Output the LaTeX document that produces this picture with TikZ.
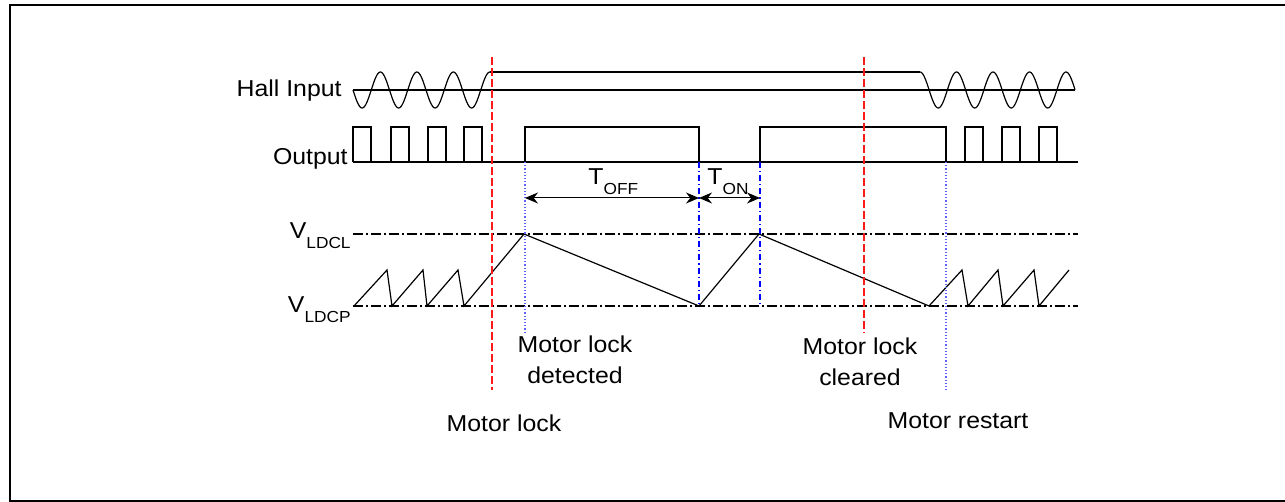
\documentclass[tikz,border=0pt]{standalone}
\usepackage{fontspec}
\setmainfont{Liberation Sans}[FakeStretch=1.08]
\usetikzlibrary{arrows.meta}
\definecolor{lockred}{HTML}{FF1A1A}
\definecolor{markblue}{HTML}{0000FF}
\definecolor{dotblue}{HTML}{6060FF}
\newcommand{\lab}[2]{#1\raisebox{-5pt}{\fontsize{8}{9}\selectfont #2}}

\begin{document}
\begin{tikzpicture}[
    x=0.5pt, y=-0.5pt,
    signal/.style={line width=0.6pt},
    level/.style={line width=0.6pt, dash pattern=on 5pt off 1.5pt on 1pt off 1.5pt},
    lockline/.style={lockred, line width=0.6pt, dash pattern=on 4pt off 1.5pt},
    dotline/.style={dotblue, line width=0.6pt, densely dotted},
    markline/.style={markblue, line width=0.6pt, dash pattern=on 3pt off 1.5pt on 0.6pt off 1.5pt},
    txt/.style={font=\fontsize{11.5}{15.5}\selectfont, inner sep=0pt}
]
\useasboundingbox (0,0) rectangle (1285,502);
\draw[line width=0.8pt] (10,5) rectangle (1300,501);

% time marks
\coordinate (lock) at (492,57);
\coordinate (detect) at (525,162);
\coordinate (on) at (699,162);
\coordinate (off) at (760,162);
\coordinate (clear) at (864,57);
\coordinate (restart) at (946,162);

% levels
\draw[level] (353,234) -- (1078,234);
\draw[level] (353,306) -- (1078,306);

% hall input
\draw[signal] (353,90) -- (1075,90);
\draw[signal] plot[domain=353:490, samples=140, smooth] (\x, {90+18*sin(9.863*(\x-353))});
\draw[signal] (490,72) -- (920,72);
\draw[signal] plot[domain=920:1075, samples=160, smooth] (\x, {90-18*cos(9.863*(\x-920))});

% output
\draw[signal] (353,162) -- (1078,162);
\foreach \p in {353,391,428,464,965,1002,1039} {
    \draw[signal] (\p,162) -- (\p,127) -- (\p+18,127) -- (\p+18,162);
}
\draw[signal] (detect) -- (525,127) -- (699,127) -- (on);
\draw[signal] (off) -- (760,127) -- (946,127) -- (restart);

% capacitor ramp
\draw[signal] (354,306) -- (387,270) -- (392,306) -- (423,270) -- (427,306)
    -- (458,270) -- (464,306) -- (524,234) -- (699,306) -- (759,234)
    -- (929,306) -- (962,270) -- (968,306) -- (998,270) -- (1003,306)
    -- (1034,270) -- (1039,306) -- (1069,270);

% vertical marks
\draw[lockline] (lock) -- (492,390);
\draw[lockline] (clear) -- (864,333);
\draw[dotline] (detect) -- (525,333);
\draw[dotline] (restart) -- (946,391);
\draw[markline] (on) -- (699,306);
\draw[markline] (off) -- (760,306);

% timing arrows
\coordinate (toffL) at (525,198);
\coordinate (toffR) at (699,198);
\coordinate (tonR) at (760,198);
\draw[{Stealth[length=6.5pt,width=5.5pt]}-{Stealth[length=6.5pt,width=5.5pt]}, line width=0.5pt] (toffL) -- (toffR);
\draw[{Stealth[length=6.5pt,width=5.5pt]}-{Stealth[length=6.5pt,width=5.5pt]}, line width=0.5pt] (toffR) -- (tonR);

% labels
\node[txt, anchor=base east] (hall) at (342,97) {Hall Input};
\node[txt, anchor=base east] (out) at (348,165) {Output};
\node[txt, anchor=base east] (vl) at (351,239) {\lab{V}{LDCL}};
\node[txt, anchor=base east] (vp) at (351,313) {\lab{V}{LDCP}};
\node[txt, anchor=base west] (toff) at (588,185) {\lab{T}{OFF}};
\node[txt, anchor=base west] (ton) at (707,185) {\lab{T}{ON}};
\node[txt, anchor=base, align=center] (det) at (575,383) {Motor lock\\detected};
\node[txt, anchor=base, align=center] (clr) at (860,385) {Motor lock\\cleared};
\node[txt, anchor=base] (lk) at (504,431) {Motor lock};
\node[txt, anchor=base] (rst) at (958,428) {Motor restart};
\end{tikzpicture}
\end{document}
